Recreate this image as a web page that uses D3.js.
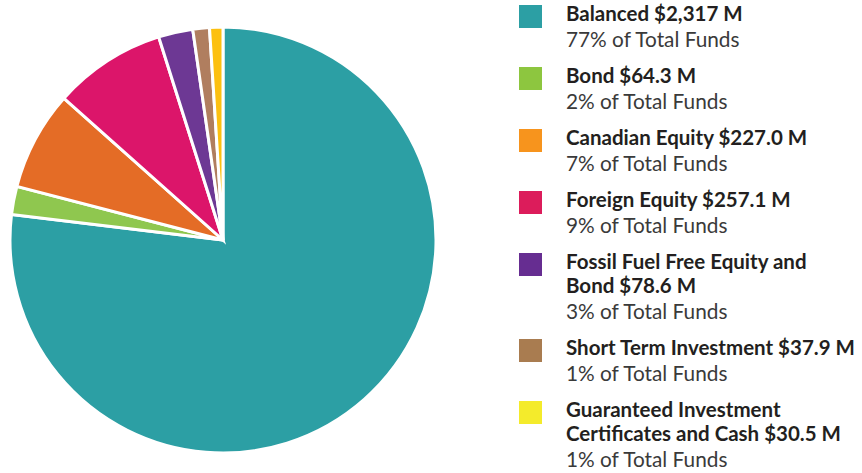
<!DOCTYPE html>
<meta charset="utf-8">
<head>
<style>
  body { margin: 0; background: #fff; }
  .slice { stroke: #fff; stroke-width: 3px; stroke-linejoin: miter; }
  .legend-title { font: bold 20.5px Lato, sans-serif; fill: #231f20; }
  .legend-sub { font: 20.8px Lato, sans-serif; fill: #3a3a3a; }
</style>
</head>
<body>
<script src="https://cdnjs.cloudflare.com/ajax/libs/d3/7.8.5/d3.min.js"></script>
<script>
// fund data, clockwise from 12 o'clock
var categories = ["Balanced", "Bond", "Canadian Equity", "Foreign Equity",
  "Fossil Fuel Free Equity and Bond", "Short Term Investment",
  "Guaranteed Investment Certificates and Cash"];
var amounts = [2317, 64.3, 227.0, 257.1, 78.6, 37.9, 30.5];
var titleLines = [
  ["Balanced $2,317 M"],
  ["Bond $64.3 M"],
  ["Canadian Equity $227.0 M"],
  ["Foreign Equity $257.1 M"],
  ["Fossil Fuel Free Equity and", "Bond $78.6 M"],
  ["Short Term Investment $37.9 M"],
  ["Guaranteed Investment", "Certificates and Cash $30.5 M"]
];
var percents = ["77%", "2%", "7%", "9%", "3%", "1%", "1%"];

var pieColors = ["#2c9fa4", "#8fc74f", "#e46c26", "#dc156a", "#6d3894", "#b07e5f", "#fcc010"];
var legendColors = ["#2c9fa4", "#8dc63f", "#f7941d", "#dc1c5b", "#662d91", "#a97c50", "#f4eb2b"];

var width = 862, height = 473;
var cx = 223, cy = 240, radius = 213;

var svg = d3.select("body").append("svg")
    .attr("width", width)
    .attr("height", height);

var data = categories.map(function(c, i) {
  return { name: c, value: amounts[i], i: i };
});

var pie = d3.pie().sort(null).value(function(d) { return d.value; });
var arc = d3.arc().innerRadius(0).outerRadius(radius);

var color = d3.scaleOrdinal().domain(categories).range(pieColors);
var legendColor = d3.scaleOrdinal().domain(categories).range(legendColors);

svg.append("g")
    .attr("transform", "translate(" + cx + "," + cy + ")")
  .selectAll("path")
    .data(pie(data))
  .enter().append("path")
    .attr("class", "slice")
    .attr("d", arc)
    .attr("fill", function(d) { return color(d.data.name); });

// legend
var legend = svg.append("g");
var y = 21;
data.forEach(function(d, i) {
  var g = legend.append("g");
  g.append("rect")
    .attr("x", 519).attr("y", y - 16)
    .attr("width", 23).attr("height", 23)
    .attr("fill", legendColor(d.name));
  titleLines[i].forEach(function(t, k) {
    g.append("text")
      .attr("class", "legend-title")
      .attr("x", 566).attr("y", y + k * 24)
      .text(t);
  });
  var last = y + (titleLines[i].length - 1) * 24;
  g.append("text")
    .attr("class", "legend-sub")
    .attr("x", 566).attr("y", last + 26)
    .text(percents[i] + " of Total Funds");
  y = last + 26 + 36;
});
</script>
</body>
